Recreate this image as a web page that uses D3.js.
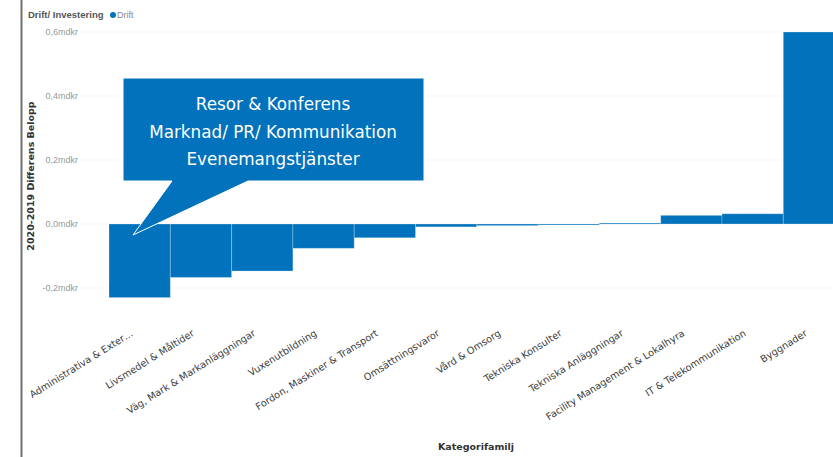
<!DOCTYPE html>
<html>
<head>
<meta charset="utf-8">
<script src="https://cdn.jsdelivr.net/npm/d3@7"></script>
<style>
    body { margin: 0; background: #fff; }
    svg { display: block; font-family: "DejaVu Sans", sans-serif; }
    .small { font-family: "Liberation Sans", Arial, sans-serif; }
</style>
</head>
<body>
<div id="chart"></div>
<script>
// Data (mdkr)
const categories = [
    "Administrativa & Exter…", "Livsmedel & Måltider", "Väg, Mark & Markanläggningar",
    "Vuxenutbildning", "Fordon, Maskiner & Transport", "Omsättningsvaror",
    "Vård & Omsorg", "Tekniska Konsulter", "Tekniska Anläggningar",
    "Facility Management & Lokalhyra", "IT & Telekommunikation", "Byggnader"
];
const values = [-0.230, -0.167, -0.147, -0.076, -0.043, -0.009, -0.005, -0.002, 0.003, 0.027, 0.032, 0.600];
const yTicks = [-0.2, 0, 0.2, 0.4, 0.6];
const calloutLines = ["Resor & Konferens", "Marknad/ PR/ Kommunikation", "Evenemangstjänster"];

class DiffChart {
    constructor() {
        this.width = 833;
        this.height = 457;
        this.blue = "#0172bb";
        this.plot = { left: 109, top: 32, bottom: 288, step: 61.3 };
    }

    render() {
        const svg = d3.select("#chart")
            .append("svg")
            .attr("width", this.width)
            .attr("height", this.height);

        const x = d3.scaleBand()
            .domain(categories)
            .range([this.plot.left, this.plot.left + this.plot.step * categories.length])
            .padding(0);

        const y = d3.scaleLinear()
            .domain([-0.2, 0.6])
            .range([this.plot.bottom, this.plot.top]);

        // left border of the visual
        svg.append("line")
            .attr("x1", 21.5).attr("x2", 21.5)
            .attr("y1", 0).attr("y2", this.height)
            .style("stroke", "#6f6f6f")
            .style("stroke-width", 2);

        // legend
        svg.append("text")
            .attr("class", "small")
            .attr("x", 28).attr("y", 18)
            .style("font-size", "9.5px")
            .style("font-weight", "bold")
            .style("fill", "#555")
            .text("Drift/ Investering");
        svg.append("circle")
            .attr("cx", 113).attr("cy", 15).attr("r", 3)
            .style("fill", this.blue);
        svg.append("text")
            .attr("class", "small")
            .attr("x", 117).attr("y", 18)
            .style("font-size", "9px")
            .style("fill", "#888")
            .text("Drift");

        // gridlines + tick labels
        const fmt = d => (d === 0 ? "0,0" : d3.format(".1f")(d).replace(".", ",").replace("−", "-")) + "mdkr";
        const grid = svg.append("g");
        grid.selectAll("line")
            .data(yTicks)
            .join("line")
            .attr("x1", 82).attr("x2", this.width)
            .attr("y1", d => y(d)).attr("y2", d => y(d))
            .style("stroke", "#d6d6d6")
            .style("stroke-width", 1)
            .style("stroke-dasharray", "1,3");
        grid.selectAll("text")
            .data(yTicks)
            .join("text")
            .attr("class", "small")
            .attr("x", 78)
            .attr("y", d => y(d) + 3)
            .attr("text-anchor", "end")
            .style("font-size", "9px")
            .style("fill", "#999")
            .text(fmt);

        // y axis title
        svg.append("text")
            .attr("transform", "translate(34,176) rotate(-90)")
            .attr("text-anchor", "middle")
            .style("font-size", "9.5px")
            .style("font-weight", "bold")
            .style("fill", "#333")
            .text("2020-2019 Differens Belopp");

        // bars
        svg.append("g")
            .selectAll("rect")
            .data(values)
            .join("rect")
            .attr("x", (d, i) => x(categories[i]))
            .attr("y", d => y(Math.max(0, d)))
            .attr("width", x.bandwidth())
            .attr("height", d => Math.max(1, Math.abs(y(d) - y(0))))
            .style("fill", this.blue)
            .style("stroke", "#fff")
            .style("stroke-opacity", 0.25)
            .style("stroke-width", 1);

        // x labels
        svg.append("g")
            .selectAll("text")
            .data(categories)
            .join("text")
            .attr("transform", d => "translate(" + (x(d) + x.bandwidth() / 2 - 6) + ",335) rotate(-32)")
            .attr("text-anchor", "end")
            .style("font-size", "9.7px")
            .style("fill", "#3a3a3a")
            .text(d => d);

        // x axis title
        svg.append("text")
            .attr("x", 476).attr("y", 450)
            .attr("text-anchor", "middle")
            .style("font-size", "9.5px")
            .style("font-weight", "bold")
            .style("fill", "#333")
            .text("Kategorifamilj");

        this.create_callout(svg);
    }

    create_callout(svg) {
        const g = svg.append("g");
        g.append("path")
            .attr("d", "M123,78 H424 V181 H248 L133,235 L172,181 H123 Z")
            .style("fill", this.blue)
            .style("stroke", "#fff")
            .style("stroke-width", 1);
        g.selectAll("text")
            .data(calloutLines)
            .join("text")
            .attr("x", 273)
            .attr("y", (d, i) => 110 + i * 27.5)
            .attr("text-anchor", "middle")
            .style("font-size", "16.8px")
            .style("fill", "#fff")
            .text(d => d);
    }
}

new DiffChart().render();
</script>
</body>
</html>
